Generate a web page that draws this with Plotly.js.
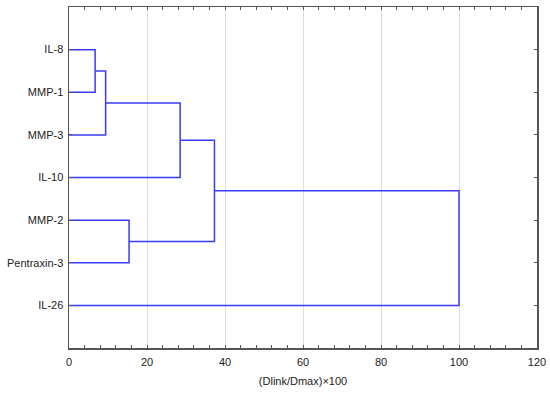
<!DOCTYPE html>
<html>
<head>
<meta charset="utf-8">
<script src="https://cdn.plot.ly/plotly-3.0.1.min.js"></script>
<style>html,body{margin:0;padding:0;background:#fff}#chart{width:550px;height:393px}</style>
</head>
<body>
<div id="chart"></div>
<script>
// Leaves in display order (top to bottom)
const leaves = ["IL-8", "MMP-1", "MMP-3", "IL-10", "MMP-2", "Pentraxin-3", "IL-26"];
// Merges: left child, right child, linkage distance (Dlink/Dmax)*100
const mergeLeft  = ["IL-8", "C1", "C2", "MMP-2", "C3", "C5"];
const mergeRight = ["MMP-1", "MMP-3", "IL-10", "Pentraxin-3", "C4", "IL-26"];
const mergeName  = ["C1", "C2", "C3", "C4", "C5", "C6"];
const mergeDist  = [6.7, 9.4, 28.5, 15.4, 37.3, 100];

const pos = {}, hgt = {};
leaves.forEach((l, i) => { pos[l] = i + 1; hgt[l] = 0; });
const xs = [], ys = [];
for (let i = 0; i < mergeName.length; i++) {
  const a = mergeLeft[i], b = mergeRight[i], d = mergeDist[i];
  xs.push(hgt[a], d, d, hgt[b], null);
  ys.push(pos[a], pos[a], pos[b], pos[b], null);
  pos[mergeName[i]] = (pos[a] + pos[b]) / 2;
  hgt[mergeName[i]] = d;
}

const trace = {
  x: xs, y: ys, type: 'scatter', mode: 'lines',
  line: {color: '#3b3bf7', width: 1.5},
  connectgaps: false, hoverinfo: 'skip', showlegend: false
};

const layout = {
  width: 550, height: 393,
  margin: {l: 69, r: 13, t: 7, b: 45},
  paper_bgcolor: '#fff', plot_bgcolor: '#fff',
  font: {family: 'Liberation Sans, Arial, sans-serif', size: 11, color: '#222'},
  xaxis: {
    range: [0, 120], dtick: 20, tick0: 0,
    showgrid: true, gridcolor: '#dcdcdc', gridwidth: 1,
    zeroline: false,
    showline: true, linecolor: '#555', linewidth: 1.5, mirror: 'ticks',
    ticks: 'inside', ticklen: 3, tickcolor: '#555', ticklabelstandoff: 3,
    minor: {dtick: 4, ticks: 'inside', ticklen: 3, tickcolor: '#555', showgrid: false},
    title: {text: '(Dlink/Dmax)×100', standoff: 10, font: {size: 11}}
  },
  yaxis: {
    range: [8, 0], tickvals: [1, 2, 3, 4, 5, 6, 7], ticktext: leaves,
    showgrid: false, zeroline: false,
    showline: true, linecolor: '#555', linewidth: 1.5, mirror: 'ticks',
    ticks: 'inside', ticklen: 3, tickcolor: '#555', ticklabelstandoff: 2
  }
};

Plotly.newPlot('chart', [trace], layout, {staticPlot: true, displayModeBar: false});
</script>
</body>
</html>
